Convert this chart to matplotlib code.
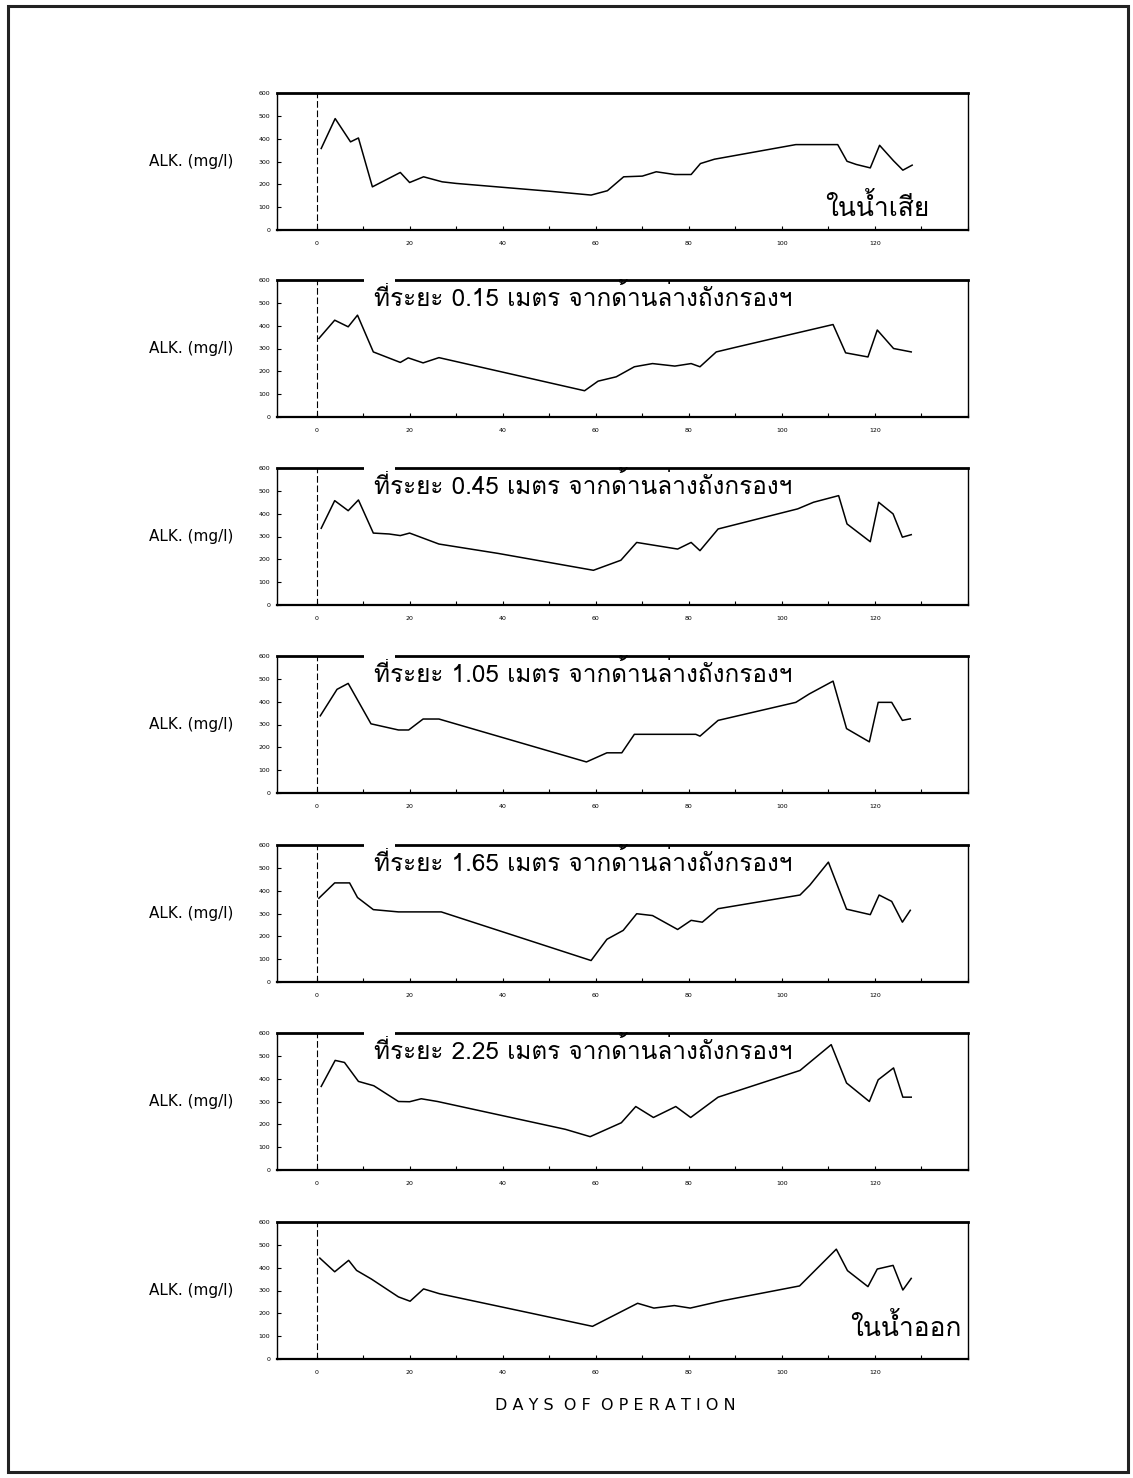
import matplotlib
matplotlib.use("Agg")
import matplotlib.pyplot as plt
from matplotlib.patches import Rectangle

# alkalinity (mg/l) vs days of operation
days_inf = [1, 4, 7.3, 9, 12, 18, 20, 23, 27, 30, 47, 50, 59, 62.5, 66, 70, 73, 77,
            80.5, 82.5, 85.5, 103, 112, 114, 116, 119, 121, 124, 126, 128]
alk_inf = [357, 488, 386, 403, 189, 252, 208, 233, 211, 204, 175, 170, 153, 172, 233,
           236, 255, 243, 243, 291, 310, 374, 374, 301, 287, 272, 371, 303, 262, 284]

days_015 = [0.5, 3.9, 6.8, 8.8, 12.2, 18, 19.7, 22.9, 26.3, 57.6, 60.5, 64.4, 68.3,
            72.2, 77, 80.5, 82.4, 85.9, 89.8, 111, 113.7, 118.5, 120.5, 124, 127.8]
alk_015 = [344, 424, 395, 446, 285, 239, 259, 237, 260, 115, 157, 176, 220, 234, 223,
           234, 220, 285, 304, 405, 281, 263, 381, 300, 285]

days_045 = [1, 3.9, 6.8, 9, 12.2, 15.6, 18, 20, 26.3, 39, 59.5, 65.4, 68.8, 77.6, 80.5,
            82.4, 86.3, 103.4, 106.8, 112.2, 114, 119, 120.8, 123.9, 125.9, 127.8]
alk_045 = [336, 457, 413, 460, 315, 311, 304, 315, 267, 226, 152, 196, 274, 245, 274,
           238, 333, 421, 450, 479, 355, 277, 450, 399, 297, 308]

days_105 = [0.8, 4.4, 6.8, 11.7, 17.6, 19.8, 22.9, 26.3, 58, 62.4, 65.6, 68.3, 81.5,
            82.4, 86.3, 103, 105.9, 111, 113.9, 118.8, 120.7, 123.6, 125.9, 127.6]
alk_105 = [338, 454, 480, 303, 276, 276, 324, 324, 136, 176, 176, 257, 257, 249, 318,
           397, 434, 490, 282, 224, 397, 397, 318, 325]

days_165 = [0.5, 3.9, 7.1, 8.8, 12.2, 17.6, 26.8, 59, 62.4, 65.9, 68.8, 72.2, 77.6,
            80.5, 82.9, 86.3, 103.9, 106, 110, 113.9, 119, 120.9, 123.6, 125.9, 127.6]
alk_165 = [367, 434, 434, 370, 317, 307, 307, 94, 187, 226, 299, 291, 230, 270, 262,
           321, 381, 424, 525, 319, 295, 381, 353, 262, 314]

days_225 = [1, 4, 6, 9, 12.3, 17.6, 20, 22.5, 26, 53.5, 58.8, 65.5, 68.6, 72.4, 77.2,
            80.4, 86.3, 103.9, 110.6, 113.9, 118.8, 120.7, 124, 126, 127.8]
alk_225 = [366, 480, 471, 388, 369, 300, 299, 312, 300, 178, 146, 207, 278, 230, 278,
           230, 319, 436, 549, 381, 300, 395, 447, 319, 319]

days_eff = [0.7, 3.9, 6.9, 8.6, 11.8, 17.6, 20.1, 23, 26.4, 46, 59.3, 69, 72.5, 76.9,
            80.3, 87.2, 103.8, 111.7, 114.1, 118.5, 120.5, 123.9, 126, 127.8]
alk_eff = [442, 382, 432, 388, 350, 272, 253, 307, 286, 201, 143, 244, 223, 234, 223,
           255, 320, 481, 387, 317, 394, 410, 302, 353]

series = [(days_inf, alk_inf), (days_015, alk_015), (days_045, alk_045),
          (days_105, alk_105), (days_165, alk_165), (days_225, alk_225),
          (days_eff, alk_eff)]
depth_labels = [None, "0.15", "0.45", "1.05", "1.65", "2.25", None]

thai_font = ["Loma", "Noto Sans Thai Looped", "Noto Sans Thai", "DejaVu Sans"]

W, H = 1133, 1478
fig = plt.figure(figsize=(W / 100, H / 100), dpi=100)

# page border of the scan
fig.patches.append(Rectangle((8 / W, 6 / H), 1120 / W, 1466 / H, transform=fig.transFigure,
                             fill=False, lw=2.2, ec="#222222"))

left, width = 277 / W, 691 / W
tops = [93, 280, 468, 656, 845, 1033, 1222]
ph = 137

for i, (d, a) in enumerate(series):
    ax = fig.add_axes([left, 1 - (tops[i] + ph) / H, width, ph / H])
    ax.plot(d, a, color="black", lw=1.1, zorder=2)
    ax.axvline(0, color="black", lw=0.8, ls=(0, (6, 2.5)), zorder=1)
    ax.set_xlim(-8.5, 139)
    ax.set_ylim(0, 600)
    ax.set_xticks(range(0, 121, 20))
    ax.set_xticks(range(0, 141, 10), minor=True)
    ax.set_yticks(range(0, 601, 100))
    ax.tick_params(which="both", direction="in", length=3, width=0.8, labelsize=4.5, pad=5)
    ax.tick_params(axis="x", which="major", pad=8)
    for s in ax.spines.values():
        s.set_linewidth(1.0)
        s.set_zorder(4)
    ax.spines["top"].set_linewidth(2.0)
    ax.spines["bottom"].set_linewidth(1.6)
    ax.set_ylabel("ALK. (mg/l)", rotation=0, fontsize=11, labelpad=48, va="center")

    if depth_labels[i] is not None:
        txt = "ที่ระยะ " + depth_labels[i] + " เมตร จากด้านล่างถังกรองฯ"
        ax.text(12.4, 486, txt, family=thai_font, fontsize=17.5, va="baseline", ha="left",
                zorder=3, bbox=dict(fc="white", ec="none", pad=1))
        # the tall tone mark breaks the top frame line in the scan
        ax.add_patch(Rectangle((10.3, 585), 6.5, 30, fc="white", ec="none",
                               clip_on=False, zorder=5))

fig.axes[0].text(131.8, 61, "ในน้ำเสีย", family=thai_font, fontsize=19, ha="right", va="baseline")
fig.axes[6].text(138.6, 100, "ในน้ำออก", family=thai_font, fontsize=19, ha="right", va="baseline")

fig.text(615 / W, 1 - 1406 / H, "D A Y S  O F  O P E R A T I O N",
         ha="center", va="center", fontsize=11.5)

fig.savefig("out.png", dpi=100)
